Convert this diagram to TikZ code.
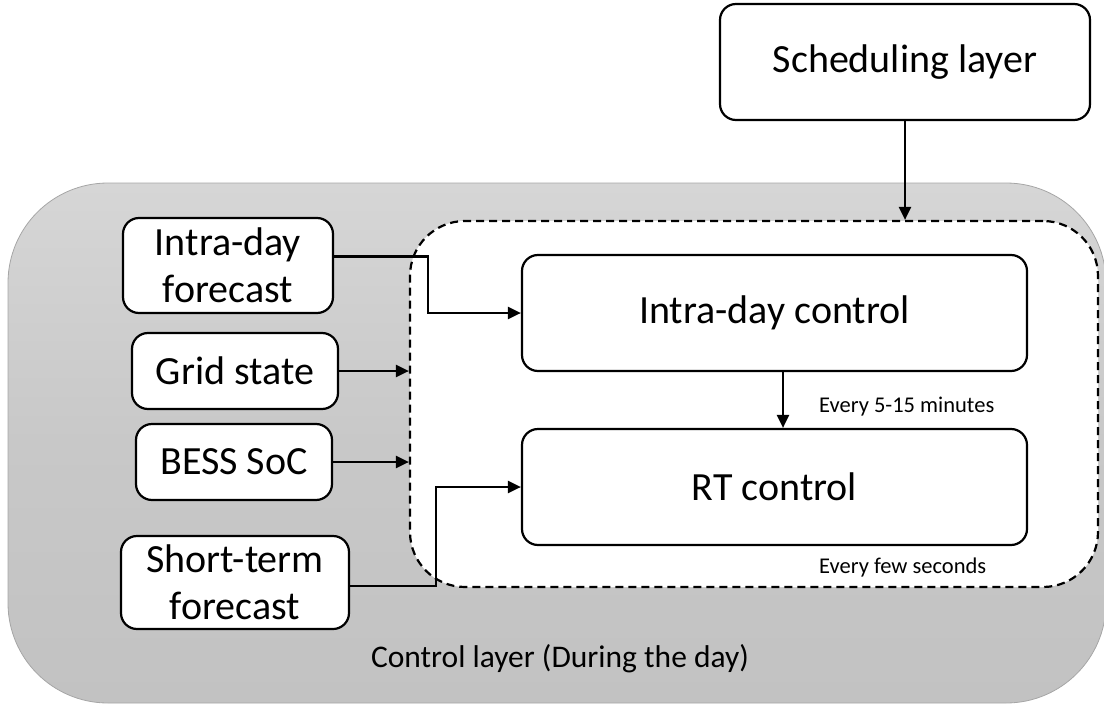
\documentclass[tikz,border=0pt]{standalone}
\usepackage{fontspec}
\setmainfont{Carlito}
\usetikzlibrary{arrows.meta,calc}

\definecolor{layertop}{HTML}{D6D6D6}
\definecolor{layermid}{HTML}{C8C8C8}
\definecolor{layerbot}{HTML}{C2C2C2}
\definecolor{layerline}{HTML}{A6A6A6}

\tikzset{
  blockbox/.style={draw=black, line width=2.2pt, fill=white, rounded corners=16pt,
    align=center, inner sep=0pt, font=\fontsize{40}{47}\selectfont},
  flow/.style={draw=black, line width=2.2pt, -{Triangle[length=13pt,width=12pt]}},
  note/.style={font=\fontsize{22.5}{26}\selectfont, inner sep=0pt},
}

\begin{document}
\begin{tikzpicture}[x=1pt,y=-1pt]
  \useasboundingbox (0,0) rectangle (1104,707);

  % control layer background
  \node[draw=layerline, line width=0.8pt, rounded corners=100pt,
        top color=layertop, bottom color=layerbot, middle color=layermid,
        minimum width=1098pt, minimum height=520pt, inner sep=0pt]
        (layer) at (557,443) {};
  \node[font=\fontsize{31.5}{36}\selectfont, anchor=base] (layerlbl) at (560,667)
        {Control layer (During the day)};

  % dashed controller region
  \node[draw=black, line width=2.2pt, dash pattern=on 8pt off 5pt, fill=white,
        rounded corners=55pt, minimum width=688pt, minimum height=366pt, inner sep=0pt]
        (ctl) at (754,404) {};

  % blocks
  \node[blockbox, minimum width=370pt, minimum height=116pt] (sched) at (905,62) {Scheduling layer};
  \node[blockbox, minimum width=505pt, minimum height=116pt] (idc) at (774.5,313) {Intra-day control};
  \node[blockbox, minimum width=505pt, minimum height=116pt] (rtc) at (774.5,487) {RT control};

  % inputs
  \node[blockbox, minimum width=210pt, minimum height=95pt] (idf) at (228,265.5) {Intra-day\\forecast};
  \node[blockbox, minimum width=206pt, minimum height=76pt] (grid) at (235,371) {Grid state};
  \node[blockbox, minimum width=196pt, minimum height=76pt] (bess) at (234,462) {BESS SoC};
  \node[blockbox, minimum width=228pt, minimum height=93pt] (stf) at (235,582.5) {Short-term\\forecast};

  % connectors
  \draw[flow] (sched.south) -- (sched.south |- ctl.north);
  \draw[flow] ([yshift=9pt]idf.east) -- ++(94,0) |- (idc.west);
  \draw[flow] (grid.east) -- (grid.east -| ctl.west);
  \draw[flow] (bess.east) -- (bess.east -| ctl.west);
  \draw[flow] ([yshift=-3.5pt]stf.east) -- ++(86,0) |- (rtc.west);
  \draw[flow] ([xshift=8.5pt]idc.south) -- ([xshift=8.5pt]rtc.north);

  % update rates
  \node[note, anchor=base west] (rate1) at (819,412) {Every 5-15 minutes};
  \node[note, anchor=base west] (rate2) at (819,573) {Every few seconds};
\end{tikzpicture}
\end{document}
